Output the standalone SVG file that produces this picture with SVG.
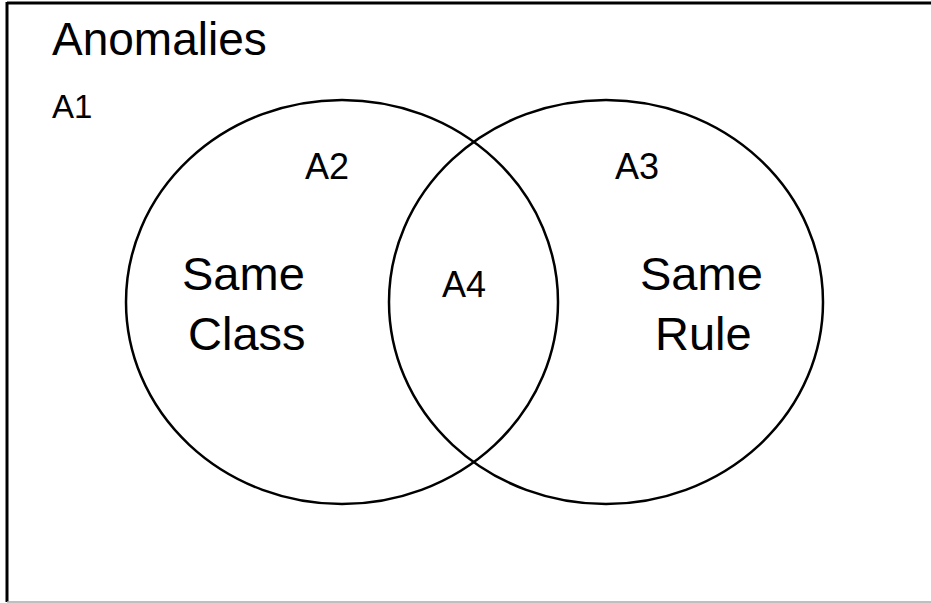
<svg xmlns="http://www.w3.org/2000/svg" width="931" height="603" viewBox="0 0 931 603">
<style>
.t{font-family:"Liberation Sans",Arial,sans-serif;fill:#000}
.c{fill:none;stroke:#000;stroke-width:2.5}
</style>
<rect x="0" y="0" width="931" height="603" fill="#fff"/>
<g id="frame">
<line x1="7" y1="3" x2="931" y2="3" stroke="#000" stroke-width="3"/>
<line x1="7" y1="2" x2="7" y2="602" stroke="#000" stroke-width="3"/>
<line x1="7" y1="602" x2="931" y2="602" stroke="#aaa" stroke-width="1.5"/>
<text class="t" x="52" y="55" font-size="46">Anomalies</text>
<text class="t" x="52" y="118" font-size="33">A1</text>
</g>
<g id="sameClass">
<ellipse class="c" cx="342" cy="302" rx="216" ry="202"/>
<text class="t" x="305" y="179" font-size="36">A2</text>
<text class="t" x="182" y="290" font-size="47">Same</text>
<text class="t" x="188" y="350" font-size="47">Class</text>
</g>
<g id="sameRule">
<ellipse class="c" cx="606" cy="302" rx="217" ry="202"/>
<text class="t" x="615" y="179" font-size="36">A3</text>
<text class="t" x="640" y="290" font-size="47">Same</text>
<text class="t" x="655" y="350" font-size="47">Rule</text>
</g>
<g id="intersection">
<text class="t" x="442" y="297" font-size="36">A4</text>
</g>
<g id="connectors"></g>
</svg>
